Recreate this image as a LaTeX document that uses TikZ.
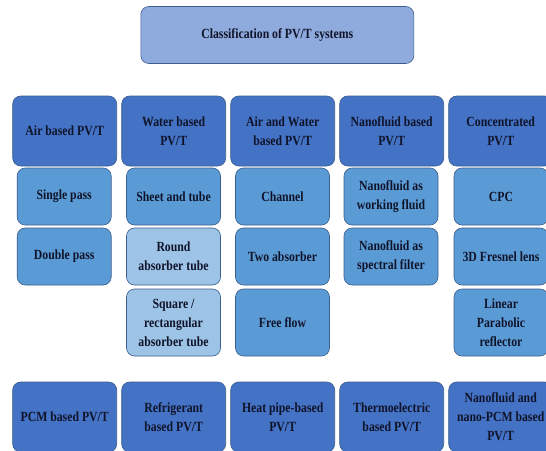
\documentclass[tikz,border=0pt]{standalone}
\usepackage{fontspec}
\setmainfont{Liberation Serif}[FakeStretch=0.84]
\definecolor{titleblue}{HTML}{8FAADC}
\definecolor{mainblue}{HTML}{4472C4}
\definecolor{subblue}{HTML}{5B9BD5}
\definecolor{lightblue}{HTML}{9DC3E6}
\definecolor{edgeblue}{HTML}{3B5E8F}
\definecolor{textnavy}{HTML}{10142A}
\usetikzlibrary{positioning}

\begin{document}
\begin{tikzpicture}[x=1pt, y=-1pt,
  box/.style={draw=edgeblue, line width=0.6pt, rounded corners=8pt, align=center,
    text=textnavy, font=\fontsize{14}{19}\selectfont\bfseries, inner sep=2pt},
  mainbox/.style={box, fill=mainblue, minimum width=104pt, minimum height=70pt},
  subbox/.style={box, fill=subblue, minimum width=94pt, minimum height=57pt},
  lightbox/.style={box, fill=lightblue, minimum width=94pt, minimum height=57pt}]
  \useasboundingbox (0, 0) rectangle (546, 450);
  \clip (0, 0) rectangle (546, 450);

  % Title
  \node[box, fill=titleblue, minimum width=273pt, minimum height=57pt] (title) at (277.3, 35) {Classification of PV/T systems};

  % Main categories
  \node[mainbox] (air) at (64.7, 131) {Air based PV/T};
  \node[mainbox] (water) at (173.7, 131) {Water based\\PV/T};
  \node[mainbox] (airwater) at (282.7, 131) {Air and Water\\based PV/T};
  \node[mainbox] (nano) at (391.7, 131) {Nanofluid based\\PV/T};
  \node[mainbox] (conc) at (500.7, 131) {Concentrated\\PV/T};

  % Air based
  \node[subbox] (single) at (64.2, 196.5) {Single pass};
  \node[subbox] (double) at (64.2, 256.5) {Double pass};

  % Water based
  \node[subbox] (sheet) at (173.5, 196.5) {Sheet and tube};
  \node[lightbox] (round) at (173.5, 256.5) {Round\\absorber tube};
  \node[lightbox, minimum height=67pt] (square) at (173.5, 322.5) {Square /\\rectangular\\absorber tube};

  % Air and water based
  \node[subbox] (channel) at (282.5, 196.5) {Channel};
  \node[subbox] (twoabs) at (282.5, 256.5) {Two absorber};
  \node[subbox, minimum height=67pt] (freeflow) at (282.5, 322.5) {Free flow};

  % Nanofluid based
  \node[subbox] (nanowork) at (391, 196.5) {Nanofluid as\\working fluid};
  \node[subbox] (nanofilter) at (391, 256.5) {Nanofluid as\\spectral filter};

  % Concentrated
  \node[subbox] (cpc) at (501, 196.5) {CPC};
  \node[subbox] (fresnel) at (501, 256.5) {3D Fresnel lens};
  \node[subbox, minimum height=67pt] (parabolic) at (501, 322.5) {Linear\\Parabolic\\reflector};

  % Further categories
  \node[mainbox] (pcm) at (64.7, 417) {PCM based PV/T};
  \node[mainbox] (refrig) at (173.7, 417) {Refrigerant\\based PV/T};
  \node[mainbox] (heatpipe) at (282.7, 417) {Heat pipe-based\\PV/T};
  \node[mainbox] (thermo) at (391.7, 417) {Thermoelectric\\based PV/T};
  \node[mainbox] (nanopcm) at (500.7, 417) {Nanofluid and\\nano-PCM based\\PV/T};
\end{tikzpicture}
\end{document}
